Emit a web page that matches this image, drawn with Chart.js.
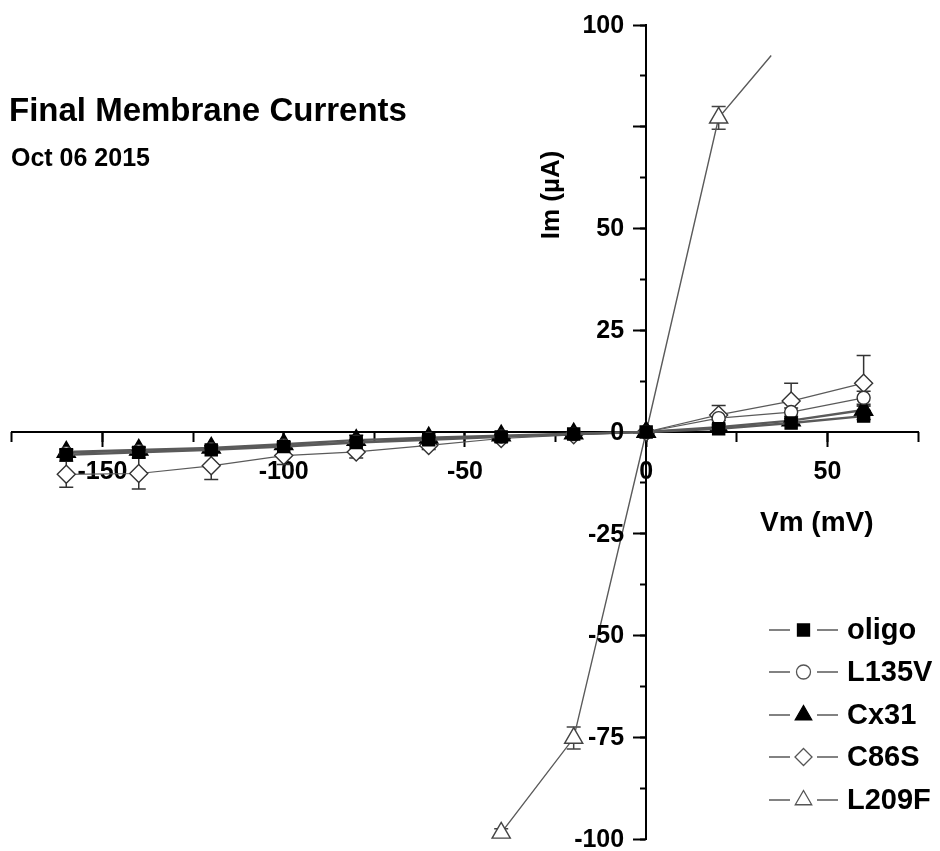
<!DOCTYPE html>
<html>
<head>
<meta charset="utf-8">
<script src="https://cdn.jsdelivr.net/npm/chart.js@4.4.1/dist/chart.umd.min.js"></script>
<style>
  html, body { margin: 0; padding: 0; background: #fff; }
  canvas { display: block; }
</style>
</head>
<body>
<canvas id="iv" width="940" height="851"></canvas>
<script>
// Membrane potential steps (mV)
const vm = [-160, -140, -120, -100, -80, -60, -40, -20, 0, 20, 40, 60];

// Mean final membrane currents (µA) per construct
const oligo    = [-5.6, -5.0, -4.4, -3.6, -2.6, -1.9, -1.2, -0.5, 0, 0.8, 2.2, 3.9];
const oligoErr = [0.6, 0.6, 0.5, 0.5, 0.4, 0.3, 0.3, 0.2, 0, 0.3, 0.5, 0.8];

const l135v    = [-5.2, -4.7, -4.2, -3.3, -2.4, -1.7, -1.1, -0.5, 0, 3.4, 4.9, 8.4];
const l135vErr = [0.8, 0.8, 0.7, 0.6, 0.5, 0.4, 0.3, 0.2, 0, 0.6, 1.0, 1.6];

const cx31     = [-4.9, -4.4, -3.9, -3.0, -2.0, -1.4, -0.9, -0.4, 0, 1.2, 2.8, 5.4];
const cx31Err  = [0.7, 0.7, 0.6, 0.6, 1.2, 0.4, 0.3, 0.2, 0, 0.3, 0.6, 1.0];

const c86s     = [-10.4, -10.2, -8.3, -5.8, -4.9, -3.3, -1.6, -0.7, 0, 4.2, 7.6, 12.0];
const c86sErr  = [3.2, 3.8, 3.4, 2.2, 1.5, 1.0, 0.9, 0.8, 0, 2.3, 4.4, 6.8];

// L209F was recorded over a narrower voltage range
const l209fVm  = [-40, -20, 0, 20, 34.5];
const l209f    = [-98.5, -75.2, 0, 77.2, 92.5];
const l209fErr = [1.0, 2.7, 0.5, 2.8, 0];

// Axis ranges and labelled ticks
const vmRange = [-175, 75];
const imRange = [-100, 100];
const vmLabelled = [-150, -100, -50, 0, 50];
const imHidden = [75];

const FONT = '"Liberation Sans", Arial, Helvetica, sans-serif';
const LINE_GREY = '#5a5a5a';

const pts = (xs, ys) => xs.map((x, i) => ({ x, y: ys[i] }));

const series = [
  { label: 'oligo', xs: vm, ys: oligo, err: oligoErr, style: 'rect', fill: '#000', stroke: '#000', r: 8.5, lw: 2.4 },
  { label: 'L135V', xs: vm, ys: l135v, err: l135vErr, style: 'circle', fill: '#fff', stroke: '#333', r: 6.5, lw: 1.2 },
  { label: 'Cx31', xs: vm, ys: cx31, err: cx31Err, style: 'triangle', fill: '#000', stroke: '#000', r: 10.5, lw: 2.4 },
  { label: 'C86S', xs: vm, ys: c86s, err: c86sErr, style: 'rectRot', fill: '#fff', stroke: '#333', r: 9, lw: 1.2 },
  { label: 'L209F', xs: l209fVm, ys: l209f, err: l209fErr, style: 'triangle', fill: '#fff', stroke: '#444', r: 10.5, lw: 1.4 }
];

// Vertical error bars with caps, drawn beneath the markers
const errorBars = {
  id: 'errorBars',
  beforeDatasetsDraw(chart) {
    const { ctx } = chart;
    const xs = chart.scales.x, ys = chart.scales.y;
    ctx.save();
    chart.data.datasets.forEach(ds => {
      if (!ds.errors) return;
      ctx.strokeStyle = ds.pointBorderColor;
      ctx.lineWidth = 1.5;
      ds.data.forEach((p, i) => {
        const e = ds.errors[i];
        if (!e) return;
        const px = xs.getPixelForValue(p.x);
        const top = ys.getPixelForValue(p.y + e);
        const bot = ys.getPixelForValue(p.y - e);
        ctx.beginPath();
        ctx.moveTo(px, top); ctx.lineTo(px, bot);
        ctx.moveTo(px - 7, top); ctx.lineTo(px + 7, top);
        ctx.moveTo(px - 7, bot); ctx.lineTo(px + 7, bot);
        ctx.stroke();
      });
    });
    ctx.restore();
  }
};

function marker(ctx, style, x, y, r) {
  ctx.beginPath();
  if (style === 'circle') {
    ctx.arc(x, y, r, 0, Math.PI * 2);
  } else if (style === 'rect') {
    const s = r * Math.SQRT1_2;
    ctx.rect(x - s, y - s, 2 * s, 2 * s);
  } else if (style === 'rectRot') {
    ctx.moveTo(x, y - r); ctx.lineTo(x + r, y); ctx.lineTo(x, y + r); ctx.lineTo(x - r, y);
    ctx.closePath();
  } else if (style === 'triangle') {
    const h = r * Math.sqrt(3) / 2;
    ctx.moveTo(x, y - r); ctx.lineTo(x + h, y + r / 2); ctx.lineTo(x - h, y + r / 2);
    ctx.closePath();
  }
  ctx.fill();
  ctx.stroke();
}

// Current-axis tick labels sit to the left of the crossing axis
const imTickLabels = {
  id: 'imTickLabels',
  afterDraw(chart) {
    const { ctx } = chart;
    const ys = chart.scales.y;
    const axisX = chart.scales.x.getPixelForValue(0);
    ctx.save();
    ctx.fillStyle = '#000';
    ctx.font = `bold 25px ${FONT}`;
    ctx.textAlign = 'right';
    ctx.textBaseline = 'middle';
    ys.ticks.forEach(t => {
      if (imHidden.includes(t.value)) return;
      ctx.fillText(String(t.value), axisX - 22, ys.getPixelForValue(t.value) + 1);
    });
    ctx.restore();
  }
};

// Title, axis titles and the line-marker-line legend
const annotations = {
  id: 'annotations',
  afterDraw(chart) {
    const { ctx } = chart;
    ctx.save();
    ctx.fillStyle = '#000';
    ctx.textBaseline = 'alphabetic';
    ctx.textAlign = 'left';
    ctx.font = `bold 33px ${FONT}`;
    ctx.fillText('Final Membrane Currents', 9, 121);
    ctx.font = `bold 25px ${FONT}`;
    ctx.fillText('Oct 06 2015', 11, 166);

    ctx.font = `bold 28px ${FONT}`;
    ctx.textBaseline = 'middle';
    ctx.fillText('Vm (mV)', 760, 523);

    ctx.save();
    ctx.translate(552, 195);
    ctx.rotate(-Math.PI / 2);
    ctx.textAlign = 'center';
    ctx.font = `bold 26px ${FONT}`;
    ctx.fillText('Im (\u00B5A)', 0, 0);
    ctx.restore();

    const rows = [630, 672, 715, 757, 800];
    ctx.font = `bold 29px ${FONT}`;
    series.forEach((s, i) => {
      const y = rows[i];
      ctx.strokeStyle = LINE_GREY;
      ctx.lineWidth = 1.6;
      ctx.beginPath();
      ctx.moveTo(769, y); ctx.lineTo(790, y);
      ctx.moveTo(817, y); ctx.lineTo(838, y);
      ctx.stroke();
      ctx.fillStyle = s.fill;
      ctx.strokeStyle = s.fill === '#000' ? '#000' : '#555';
      ctx.lineWidth = 1.3;
      marker(ctx, s.style, 803.5, y, s.style === 'circle' ? 7 : s.style === 'triangle' ? 9.5 : 8.5);
      ctx.fillStyle = '#000';
      ctx.fillText(s.label, 847, y + 1);
    });
    ctx.restore();
  }
};

const axisBase = {
  type: 'linear',
  grid: { display: true, drawOnChartArea: false, drawTicks: true, tickColor: '#000', tickWidth: 2, tickLength: 12 },
  border: { display: true, color: '#000', width: 2 }
};

new Chart(document.getElementById('iv'), {
  type: 'line',
  data: {
    datasets: series.map(s => ({
      label: s.label,
      data: pts(s.xs, s.ys),
      errors: s.err,
      borderColor: LINE_GREY,
      borderWidth: s.lw,
      pointStyle: s.style,
      pointRadius: ctx => (s.label === 'L209F' && ctx.dataIndex === l209fVm.length - 1) ? 0 : s.r,
      pointBackgroundColor: s.fill,
      pointBorderColor: s.stroke,
      pointBorderWidth: 1.4,
      tension: 0,
      fill: false,
      clip: false
    }))
  },
  options: {
    responsive: false,
    devicePixelRatio: 1,
    animation: false,
    events: [],
    layout: { padding: { left: 10, right: 22, top: 25, bottom: 12 } },
    plugins: { legend: { display: false }, tooltip: { enabled: false }, title: { display: false } },
    scales: {
      x: {
        ...axisBase,
        position: { y: 0 },
        min: vmRange[0], max: vmRange[1],
        grid: { ...axisBase.grid, tickLength: 14 },
        afterBuildTicks: a => { a.ticks = a.ticks.filter(t => vmLabelled.includes(t.value)); },
        afterFit: a => { a.paddingLeft = 0; a.paddingRight = 0; },
        ticks: { stepSize: 25, color: '#000', padding: 11, maxRotation: 0, autoSkip: false,
                 font: { family: FONT, size: 25, weight: 'bold' } }
      },
      xMinor: {
        ...axisBase,
        axis: 'x',
        position: { y: 0 },
        min: vmRange[0], max: vmRange[1],
        border: { display: false },
        grid: { ...axisBase.grid, tickLength: 10 },
        ticks: { display: false, stepSize: 25, autoSkip: false }
      },
      y: {
        ...axisBase,
        position: { x: 0 },
        min: imRange[0], max: imRange[1],
        afterFit: a => { a.paddingTop = 0; a.paddingBottom = 0; },
        ticks: { display: false, stepSize: 25, autoSkip: false }
      },
      yMinor: {
        ...axisBase,
        axis: 'y',
        position: { x: 0 },
        min: imRange[0], max: imRange[1],
        border: { display: false },
        grid: { ...axisBase.grid, tickLength: 6 },
        ticks: { display: false, stepSize: 12.5, autoSkip: false }
      }
    }
  },
  plugins: [errorBars, imTickLabels, annotations]
});
</script>
</body>
</html>
